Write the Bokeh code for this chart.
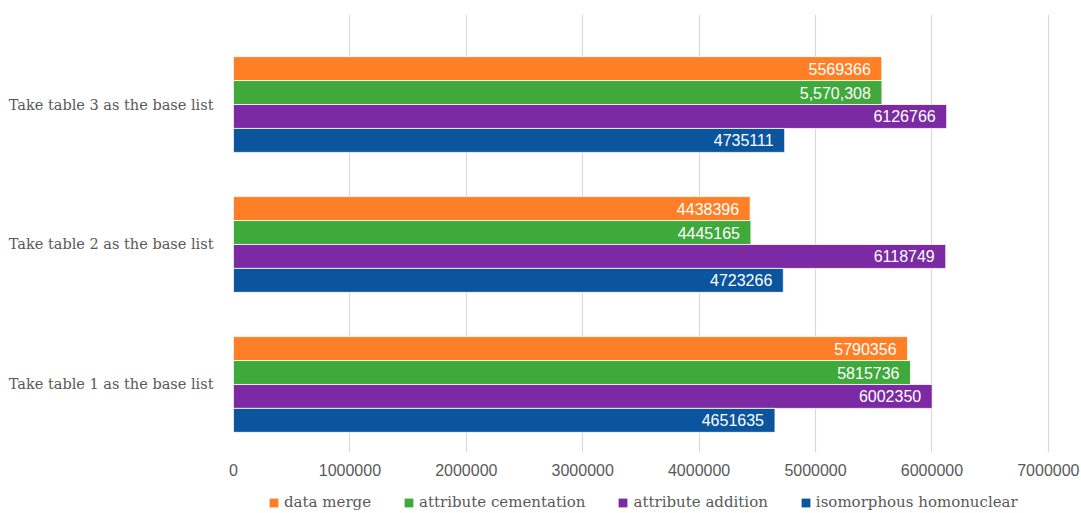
from bokeh.plotting import figure
from bokeh.layouts import column
from bokeh.models import (ColumnDataSource, Range1d, FixedTicker, Legend,
                          LegendItem, NumeralTickFormatter)
from bokeh.core.properties import value
from bokeh.embed import file_html
from bokeh.resources import INLINE

# Base-list scenarios, bottom to top
categories = ["Take table 1 as the base list",
              "Take table 2 as the base list",
              "Take table 3 as the base list"]

# Series, drawn top to bottom inside each group
series_names = ["data merge", "attribute cementation",
                "attribute addition", "isomorphous homonuclear"]
data_merge = [5790356, 4438396, 5569366]
attribute_cementation = [5815736, 4445165, 5570308]
attribute_addition = [6002350, 6118749, 6126766]
isomorphous_homonuclear = [4651635, 4723266, 4735111]
series_values = [data_merge, attribute_cementation,
                 attribute_addition, isomorphous_homonuclear]
# labels shown with thousands separators
comma_labels = {("attribute cementation", 2)}

x_ticks = [0, 1000000, 2000000, 3000000, 4000000, 5000000, 6000000, 7000000]

colors = ["#FF7F27", "#3FAA3B", "#7B2AA3", "#0B559E"]
bar_h = 0.171
offsets = [1.5 * bar_h, 0.5 * bar_h, -0.5 * bar_h, -1.5 * bar_h]

p = figure(width=1081, height=483,
           x_range=Range1d(0, 7010000), y_range=Range1d(-0.486, 2.643),
           output_backend="svg", toolbar_location=None,
           min_border_left=233, min_border_right=32, min_border_top=14,
           min_border_bottom=31)
p.outline_line_color = None
p.background_fill_color = "white"
p.border_fill_color = "white"

p.ygrid.grid_line_color = None
p.xgrid.grid_line_color = "#D9D9D9"
p.xgrid.grid_line_width = 1.2
p.xgrid.ticker = FixedTicker(ticks=x_ticks)

p.xaxis.ticker = FixedTicker(ticks=x_ticks)
p.xaxis.formatter = NumeralTickFormatter(format="0")
p.xaxis.axis_line_color = None
p.xaxis.major_tick_line_color = None
p.xaxis.minor_tick_line_color = None
p.xaxis.major_tick_out = 0
p.xaxis.minor_tick_out = 0
p.xaxis.axis_label_standoff = 0
p.xaxis.major_label_standoff = 11
p.xaxis.major_label_text_font = "Liberation Sans"
p.xaxis.major_label_text_font_size = "16px"
p.xaxis.major_label_text_color = "#595959"

p.yaxis.ticker = FixedTicker(ticks=list(range(len(categories))))
p.yaxis.major_label_overrides = {i: c for i, c in enumerate(categories)}
p.yaxis.axis_line_color = None
p.yaxis.major_tick_line_color = None
p.yaxis.minor_tick_line_color = None
p.yaxis.major_label_standoff = 14
p.yaxis.major_label_text_font = "DejaVu Serif"
p.yaxis.major_label_text_font_size = "14.5px"
p.yaxis.major_label_text_color = "#595959"

for name, vals, col, off in zip(series_names, series_values, colors, offsets):
    ys = [i + off for i in range(len(categories))]
    labels = [f"{v:,}" if (name, i) in comma_labels else str(v)
              for i, v in enumerate(vals)]
    src = ColumnDataSource(dict(y=ys, right=vals, label=labels))
    p.hbar(y="y", left=0, right="right", height=bar_h, source=src,
           fill_color=col, line_color="white", line_width=0.8)
    p.text(x="right", y="y", text="label", source=src, x_offset=-11,
           text_align="right", text_baseline="middle", text_color="white",
           text_font=value("Liberation Sans"), text_font_size="16px")

# Legend strip under the chart (its frame lines up with the chart's frame)
leg_fig = figure(width=1081, height=30, x_range=Range1d(0, 1), y_range=Range1d(0, 1),
                 output_backend="svg", toolbar_location=None,
                 min_border=0, min_border_left=0, min_border_right=0,
                 min_border_top=0, min_border_bottom=0)
leg_fig.axis.visible = False
leg_fig.grid.visible = False
leg_fig.outline_line_color = None
leg_fig.border_fill_color = "white"

items = []
for name, col in zip(series_names, colors):
    swatch = leg_fig.hbar(y=[-10], left=[0], right=[0], height=1,
                          fill_color=col, line_color=None)
    items.append(LegendItem(label=name, renderers=[swatch]))

legend = Legend(items=items, orientation="horizontal", location=(35, 2),
                glyph_width=11, glyph_height=11, label_standoff=5, spacing=32,
                label_height=18, padding=0, margin=0, border_line_color=None,
                background_fill_alpha=0,
                label_text_font="DejaVu Serif", label_text_font_size="15px",
                label_text_color="#595959")
leg_fig.add_layout(legend, "center")

layout = column(p, leg_fig, spacing=0)
open("out.html", "w").write(file_html(layout, INLINE))
